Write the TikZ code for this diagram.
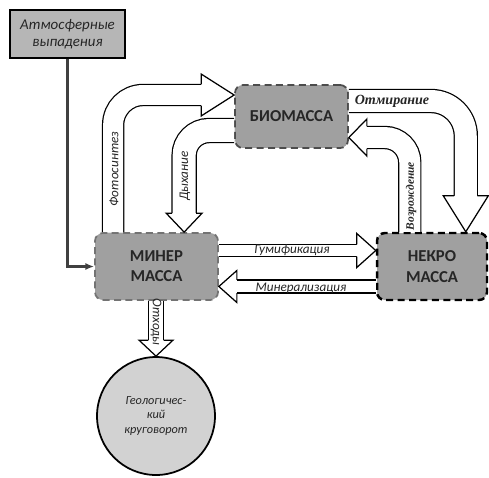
\documentclass[tikz,border=0pt]{standalone}
\usepackage{fontspec}
\setmainfont{Carlito}[ItalicFont={Carlito Italic}, BoldFont={Carlito Bold}, BoldItalicFont={Carlito Bold Italic}]
\newfontfamily\labelserif{Liberation Serif}
\usetikzlibrary{calc,arrows.meta}

\definecolor{poolgray}{RGB}{160,160,160}
\definecolor{atmgray}{RGB}{182,182,182}
\definecolor{geogray}{RGB}{210,210,210}

% hollow fat arrow: path op, start, tip, angle, shaft width, head length, head half width, corner radius
\newcommand{\fatarrow}[8]{%
	\coordinate (fatbase) at ($(#3)+({-#6*cos(#4)},{#6*sin(#4)})$);
	\draw[line width=#5*0.567pt+1.4pt, rounded corners=#8*0.567pt+0.01pt] (#2) #1 (fatbase);
	\draw[white, line width=#5*0.567pt, rounded corners=#8*0.567pt+0.01pt] (#2) #1 (fatbase);
	\filldraw[fill=white, line width=0.7pt, shift={(#3)}, rotate=#4] (-#6,-#5/2-0.6) -- (-#6,-#7) -- (0,0) -- (-#6,#7) -- (-#6,#5/2+0.6);
}

\tikzset{
	pool/.style={draw, rounded corners=4.5pt, fill=poolgray, dash pattern=on 4pt off 2.5pt, line width=1pt, align=center, inner sep=0pt, text=black!85, font=\bfseries\fontsize{9.5}{11.5}\selectfont},
	flowlbl/.style={inner sep=0pt, text=black!85, font=\itshape\fontsize{7.5}{9}\selectfont},
	serlbl/.style={inner sep=0pt, text=black!85, font=\labelserif\bfseries\itshape\fontsize{8}{9}\selectfont},
}

\begin{document}
\begin{tikzpicture}[x=0.02cm, y=-0.02cm]
	\useasboundingbox (0,0) rectangle (489,477);

	\node[draw, fill=atmgray, line width=0.8pt, minimum width=2.3cm, minimum height=0.96cm, align=center, text=black!85, font=\itshape\fontsize{8.5}{10}\selectfont] (atm) at (67.5,34) {Атмосферные\\выпадения};
	\node[pool, draw=black!55, minimum width=2.46cm, minimum height=1.34cm] (min) at (156.5,266.5) {МИНЕР\\МАССА};
	\node[pool, draw=black!70, minimum width=2.26cm, minimum height=1.26cm] (bio) at (291.5,116.5) {БИОМАССА};
	\node[pool, draw=black, line width=1.4pt, minimum width=2.2cm, minimum height=1.34cm] (nek) at (432,266.5) {НЕКРО\\МАССА};
	\node[circle, draw, line width=1pt, fill=geogray, minimum size=2.36cm, align=center, text=black!85, font=\itshape\fontsize{7}{8.5}\selectfont] (geo) at (156,416) {Геологичес-\\кий\\круговорот};

	\draw[line width=1.3pt, black!75, -{Latex[length=5pt,width=4pt]}] (atm.south) |- (min.west);

	\coordinate (fotoS) at ($(min.north west)+(19,0)$);
	\coordinate (fotoT) at ($(bio.west)+(0,-21.5)$);
	\fatarrow{|-}{fotoS}{fotoT}{0}{20}{33}{21}{30}

	\coordinate (dyhS) at ($(bio.west)+(0,14)$);
	\coordinate (dyhT) at ($(min.north west)+(90,0)$);
	\fatarrow{-|}{dyhS}{dyhT}{-90}{23}{19}{18}{25}

	\coordinate (otmS) at ($(bio.east)+(0,-15.5)$);
	\coordinate (otmT) at ($(nek.north west)+(90,0)$);
	\fatarrow{-|}{otmS}{otmT}{-90}{22}{36}{22.5}{35}

	\coordinate (vozS) at ($(nek.north west)+(34,0)$);
	\coordinate (vozT) at ($(bio.east)+(0,21)$);
	\fatarrow{|-}{vozS}{vozT}{180}{21}{18}{18.5}{25}

	\coordinate (gumS) at ($(min.east)+(0,-16)$);
	\coordinate (gumT) at ($(nek.west)+(0,-16)$);
	\fatarrow{--}{gumS}{gumT}{0}{11}{19}{17}{0}

	\coordinate (minrS) at ($(nek.west)+(0,20)$);
	\coordinate (minrT) at ($(min.east)+(0,20)$);
	\fatarrow{--}{minrS}{minrT}{180}{12}{18}{16}{0}

	\coordinate (othS) at (geo.north |- min.south);
	\fatarrow{--}{othS}{geo.north}{-90}{14}{16}{17}{0}

	\node[flowlbl, rotate=90] (fotoL) at (114,169) {Фотосинтез};
	\node[flowlbl, rotate=90] (dyhL) at (185,176) {Дыхание};
	\node[serlbl] (otmL) at (392,101) {Отмирание};
	\node[serlbl, rotate=90, font=\labelserif\bfseries\itshape\fontsize{6.5}{8}\selectfont] (vozL) at (411,196) {Возрождение};
	\node[flowlbl] (gumL) at (292,250) {Гумификация};
	\node[flowlbl] (minrL) at (301,288) {Минерализация};
	\node[flowlbl, rotate=-90] (othL) at (156,322) {Отходы};

\end{tikzpicture}
\end{document}
